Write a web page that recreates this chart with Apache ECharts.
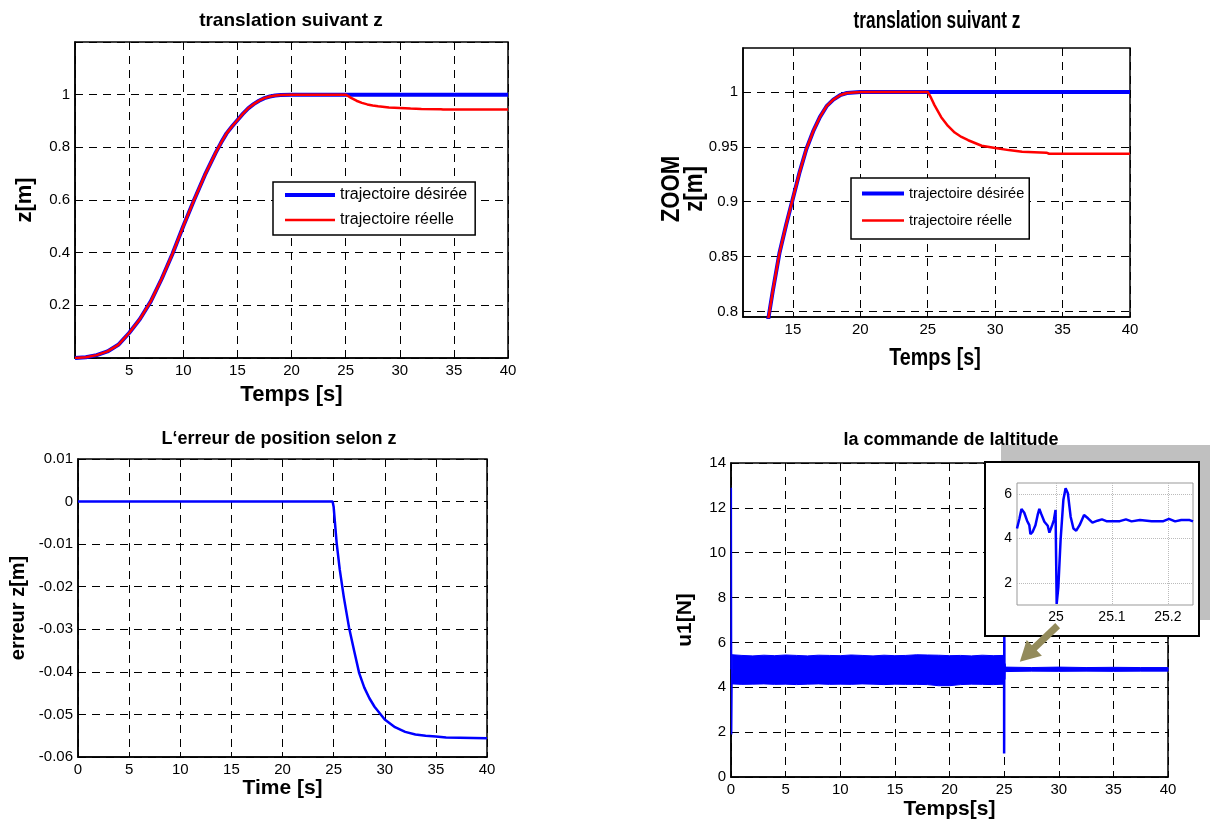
<!DOCTYPE html>
<html>
<head>
<meta charset="utf-8">
<script src="https://cdn.jsdelivr.net/npm/echarts@6/dist/echarts.min.js"></script>
<style>
  html, body { margin: 0; padding: 0; background: #fff; }
  #chart { width: 1210px; height: 823px; }
</style>
</head>
<body>
<div id="chart"></div>
<script>
// trajectoire z (haut gauche, et zoom haut droite)
const tZ = [0, 1, 2, 3, 4, 5, 6, 7, 8, 9, 10, 11, 12, 13, 13.5, 14, 14.5, 15, 15.5, 16, 16.5, 17, 17.5, 18, 18.5, 19, 20,
  25, 25.25, 25.5, 26, 26.5, 27, 27.5, 28, 29, 30, 31, 32, 33.8, 34, 36, 40];
const zDes = [0, 0.003, 0.011, 0.025, 0.05, 0.095, 0.148, 0.215, 0.3, 0.395, 0.5, 0.6, 0.695, 0.78, 0.818, 0.853, 0.879, 0.903, 0.927, 0.948, 0.964, 0.977, 0.987, 0.993, 0.997, 0.999, 1,
  1, 1, 1, 1, 1, 1, 1, 1, 1, 1, 1, 1, 1, 1, 1, 1];
const zReal = [0, 0.003, 0.011, 0.025, 0.05, 0.095, 0.148, 0.215, 0.3, 0.395, 0.5, 0.6, 0.695, 0.78, 0.818, 0.853, 0.879, 0.903, 0.927, 0.948, 0.964, 0.977, 0.987, 0.993, 0.997, 0.999, 1,
  1, 0.9945, 0.988, 0.977, 0.969, 0.963, 0.959, 0.956, 0.951, 0.949, 0.947, 0.9455, 0.9447, 0.9437, 0.9437, 0.9437];

// erreur de position (bas gauche)
const tErr = [0, 24.9, 25, 25.3, 25.6, 26, 26.5, 27, 27.5, 28, 28.5, 29, 30, 31, 32, 33, 34, 35, 36, 40];
const errZ = [0, 0, -0.0012, -0.0098, -0.016, -0.0225, -0.0295, -0.035, -0.0403, -0.0437, -0.0462, -0.0482, -0.0512, -0.053, -0.0541, -0.0547, -0.055, -0.0552, -0.0554, -0.0556];

// commande u1 (bas droite)
const tU0 = [0, 0.03, 0.06, 0.1];
const u0 = [4.8, 12.9, 1.9, 4.6];
// bande d'oscillation avant 25 s (enveloppes)
const tBandA = [0.1, 1, 2, 3, 4, 5, 6, 7, 8, 9, 10, 11, 12, 13, 14, 15, 16, 17, 18, 19, 20, 21, 22, 23, 24, 24.9];
const upA = [5.45, 5.42, 5.40, 5.43, 5.41, 5.44, 5.42, 5.40, 5.43, 5.42, 5.41, 5.44, 5.42, 5.40, 5.43, 5.41, 5.42, 5.45, 5.44, 5.43, 5.41, 5.42, 5.40, 5.43, 5.41, 5.42];
const loA = [4.15, 4.13, 4.14, 4.15, 4.13, 4.14, 4.12, 4.14, 4.15, 4.13, 4.14, 4.13, 4.15, 4.14, 4.12, 4.14, 4.13, 4.13, 4.12, 4.07, 4.07, 4.12, 4.14, 4.13, 4.12, 4.14];
// bande apres 25 s
const tBandB = [25.1, 27.5, 30, 32.5, 35, 37.5, 40];
const upB = [4.9, 4.88, 4.9, 4.88, 4.89, 4.88, 4.88];
const loB = [4.7, 4.72, 4.71, 4.72, 4.71, 4.72, 4.72];
// detail autour de 25 s (encart)
const tIn = [24.930, 24.9345, 24.938, 24.943, 24.948, 24.952, 24.954, 24.958, 24.963, 24.967, 24.970, 24.973, 24.979, 24.985, 24.988, 24.993, 24.996, 24.999,
  25.000, 25.001, 25.004, 25.008, 25.013, 25.017, 25.021, 25.026, 25.031, 25.036, 25.042, 25.050, 25.057, 25.065, 25.074, 25.082, 25.090,
  25.114, 25.125, 25.135, 25.150, 25.171, 25.192, 25.202, 25.213, 25.224, 25.239, 25.245];
const uIn = [4.45, 4.91, 5.33, 5.16, 4.80, 4.60, 4.20, 4.30, 4.60, 5.06, 5.33, 5.13, 4.75, 4.57, 4.26, 4.60, 4.83, 5.28,
  3.17, 1.05, 1.81, 3.92, 5.74, 6.26, 6.04, 4.98, 4.45, 4.35, 4.60, 5.06, 4.91, 4.71, 4.80, 4.86, 4.78,
  4.78, 4.86, 4.77, 4.83, 4.78, 4.78, 4.88, 4.77, 4.83, 4.83, 4.77];
const arrowFrom = [29.9, 6.75];
const arrowTo = [27.1, 5.45];

const FONT = "'Liberation Sans', Arial, sans-serif";
const pairs = (xs, ys) => xs.map((x, i) => [x, ys[i]]);

const dashGrid = { show: true, lineStyle: { color: '#000', type: [8, 6], width: 1 } };
const axLine = { show: true, onZero: false, lineStyle: { color: '#000', width: 1.5 } };
const axTick = { show: true, inside: true, length: 5, lineStyle: { color: '#000' } };
const lab = (extra) => Object.assign({ color: '#000', fontSize: 15, fontFamily: FONT, margin: 5 }, extra || {});
const nameStyle = (size) => ({ color: '#000', fontSize: size, fontWeight: 'bold', fontFamily: FONT });

// bande remplie entre deux enveloppes, passee par les axes du panneau 4
function band(ts, hi, lo) {
  return {
    type: 'custom', xAxisIndex: 3, yAxisIndex: 3, data: [0],
    renderItem: (params, api) => {
      const top = ts.map((t, i) => api.coord([t, hi[i]]));
      const bot = ts.map((t, i) => api.coord([t, lo[i]])).reverse();
      return { type: 'polygon', shape: { points: top.concat(bot) },
        style: { fill: '#0000ff', stroke: '#0000ff', lineWidth: 1 } };
    }
  };
}

// textes condenses du panneau zoom
function narrow(text, x, y, size, sx, rot) {
  return { type: 'text', x: x, y: y, rotation: rot || 0, scaleX: sx, z: 6,
    style: { text: text, fill: '#000', font: 'bold ' + size + 'px ' + FONT, align: 'center', verticalAlign: 'middle' } };
}

const legendData = [
  { name: 'trajectoire désirée', lineStyle: { width: 4 } },
  { name: 'trajectoire réelle', lineStyle: { width: 2.5 } }
];

const chart = echarts.init(document.getElementById('chart'));

const option = {
  animation: false,
  backgroundColor: '#fff',
  title: [
    { text: 'translation suivant z', left: 291, top: 11, textAlign: 'center', padding: 0,
      textStyle: { fontSize: 19, fontWeight: 'bold', fontFamily: FONT, color: '#000' } },
    { text: 'L‘erreur de position selon z', left: 279, top: 430, textAlign: 'center', padding: 0,
      textStyle: { fontSize: 18, fontWeight: 'bold', fontFamily: FONT, color: '#000' } },
    { text: 'la commande de laltitude', left: 951, top: 431, textAlign: 'center', padding: 0,
      textStyle: { fontSize: 18, fontWeight: 'bold', fontFamily: FONT, color: '#000' } }
  ],
  legend: [
    { data: legendData, orient: 'vertical', left: 273, top: 182,
      itemWidth: 50, itemHeight: 16, itemGap: 9, padding: [5, 8, 7, 10],
      itemStyle: { opacity: 0 },
      borderColor: '#000', borderWidth: 1.5, backgroundColor: '#fff',
      textStyle: { fontSize: 16, fontFamily: FONT, color: '#000' } },
    { data: legendData, orient: 'vertical', left: 851, top: 178,
      itemWidth: 42, itemHeight: 18, itemGap: 12, padding: [8, 5, 11, 9],
      itemStyle: { opacity: 0 },
      borderColor: '#000', borderWidth: 1.5, backgroundColor: '#fff',
      textStyle: { fontSize: 14.5, fontFamily: FONT, color: '#000' } }
  ],
  grid: [
    { left: 75, right: 702, top: 42, bottom: 465, show: true, borderColor: '#000', borderWidth: 1.5 },
    { left: 743, right: 80, top: 48, bottom: 506, show: true, borderColor: '#000', borderWidth: 1.5 },
    { left: 78, right: 723, top: 459, bottom: 66, show: true, borderColor: '#000', borderWidth: 1.5 },
    { left: 731, right: 42, top: 463, bottom: 46, show: true, borderColor: '#000', borderWidth: 1.5 },
    { left: 1017, right: 17, top: 483, bottom: 218, show: true, borderColor: '#999', borderWidth: 1, z: 4 }
  ],
  xAxis: [
    { type: 'value', gridIndex: 0, min: 0, max: 40, interval: 5,
      axisLine: axLine, axisTick: axTick, splitLine: dashGrid,
      axisLabel: lab({ formatter: v => (v === 0 ? '' : v) }),
      name: 'Temps [s]', nameLocation: 'middle', nameGap: 26, nameTextStyle: nameStyle(22) },
    { type: 'value', gridIndex: 1, min: 11.3, max: 40,
      axisLine: axLine, axisTick: Object.assign({ customValues: [15, 20, 25, 30, 35, 40] }, axTick), splitLine: dashGrid,
      axisLabel: lab({ customValues: [15, 20, 25, 30, 35, 40] }) },
    { type: 'value', gridIndex: 2, min: 0, max: 40, interval: 5,
      axisLine: axLine, axisTick: axTick, splitLine: dashGrid, axisLabel: lab(),
      name: 'Time [s]', nameLocation: 'middle', nameGap: 20, nameTextStyle: nameStyle(21) },
    { type: 'value', gridIndex: 3, min: 0, max: 40, interval: 5,
      axisLine: axLine, axisTick: axTick, splitLine: dashGrid, axisLabel: lab(),
      name: 'Temps[s]', nameLocation: 'middle', nameGap: 22, nameTextStyle: nameStyle(21) },
    { type: 'value', gridIndex: 4, min: 24.93, max: 25.245, z: 4,
      axisLine: { show: false }, axisTick: { show: false, customValues: [25, 25.1, 25.2] },
      splitLine: { show: true, lineStyle: { color: '#bbb', type: 'dotted', width: 1 } },
      axisLabel: lab({ fontSize: 14, customValues: [25, 25.1, 25.2] }) }
  ],
  yAxis: [
    { type: 'value', gridIndex: 0, min: 0, max: 1.2, interval: 0.2,
      axisLine: axLine, axisTick: axTick, splitLine: dashGrid,
      axisLabel: lab({ formatter: v => (v === 0 || v > 1.1 ? '' : v) }),
      name: 'z[m]', nameLocation: 'middle', nameGap: 39, nameTextStyle: nameStyle(22) },
    { type: 'value', gridIndex: 1, min: 0.795, max: 1.04,
      axisLine: axLine, axisTick: Object.assign({ customValues: [0.8, 0.85, 0.9, 0.95, 1] }, axTick), splitLine: dashGrid,
      axisLabel: lab({ customValues: [0.8, 0.85, 0.9, 0.95, 1] }) },
    { type: 'value', gridIndex: 2, min: -0.06, max: 0.01, interval: 0.01,
      axisLine: axLine, axisTick: axTick, splitLine: dashGrid, axisLabel: lab(),
      name: 'erreur z[m]', nameLocation: 'middle', nameGap: 50, nameTextStyle: nameStyle(20) },
    { type: 'value', gridIndex: 3, min: 0, max: 14, interval: 2,
      axisLine: axLine, axisTick: axTick, splitLine: dashGrid, axisLabel: lab(),
      name: 'u1[N]', nameLocation: 'middle', nameGap: 35, nameTextStyle: nameStyle(21) },
    { type: 'value', gridIndex: 4, min: 1, max: 6.5, z: 4,
      axisLine: { show: false }, axisTick: { show: false, customValues: [2, 4, 6] },
      splitLine: { show: true, lineStyle: { color: '#bbb', type: 'dotted', width: 1 } },
      axisLabel: lab({ fontSize: 14, customValues: [2, 4, 6] }) }
  ],
  graphic: [
    { type: 'rect', z: 3, shape: { x: 1001, y: 445, width: 209, height: 175 }, style: { fill: '#c0c0c0' } },
    { type: 'rect', z: 3.5, shape: { x: 985, y: 462, width: 214, height: 174 }, style: { fill: '#fff', stroke: '#000', lineWidth: 2 } },
    narrow('translation suivant z', 937, 22, 23, 0.75),
    narrow('Temps [s]', 935, 358, 24, 0.82),
    narrow('ZOOM', 672, 189, 25, 0.89, Math.PI / 2),
    narrow('z[m]', 695, 189, 25, 0.89, Math.PI / 2)
  ],
  series: [
    // panneau 1
    { name: 'trajectoire désirée', type: 'line', xAxisIndex: 0, yAxisIndex: 0, data: pairs(tZ, zDes),
      symbol: 'none', lineStyle: { color: '#0000ff', width: 4 }, itemStyle: { color: '#0000ff' } },
    { name: 'trajectoire réelle', type: 'line', xAxisIndex: 0, yAxisIndex: 0, data: pairs(tZ, zReal),
      symbol: 'none', lineStyle: { color: '#ff0000', width: 2.5 }, itemStyle: { color: '#ff0000' } },
    // panneau 2 (zoom)
    { name: 'trajectoire désirée', type: 'line', xAxisIndex: 1, yAxisIndex: 1, data: pairs(tZ, zDes),
      symbol: 'none', lineStyle: { color: '#0000ff', width: 4 }, itemStyle: { color: '#0000ff' } },
    { name: 'trajectoire réelle', type: 'line', xAxisIndex: 1, yAxisIndex: 1, data: pairs(tZ, zReal),
      symbol: 'none', lineStyle: { color: '#ff0000', width: 2.5 }, itemStyle: { color: '#ff0000' } },
    // panneau 3
    { type: 'line', xAxisIndex: 2, yAxisIndex: 2, data: pairs(tErr, errZ),
      symbol: 'none', lineStyle: { color: '#0000ff', width: 2.5 } },
    // panneau 4
    { type: 'line', xAxisIndex: 3, yAxisIndex: 3, data: pairs(tU0, u0),
      symbol: 'none', lineStyle: { color: '#0000ff', width: 1.5 } },
    band(tBandA, upA, loA),
    band(tBandB, upB, loB),
    { type: 'line', xAxisIndex: 3, yAxisIndex: 3, data: pairs(tIn, uIn),
      symbol: 'none', lineStyle: { color: '#0000ff', width: 2.5 },
      markLine: { silent: true, symbol: ['none', 'triangle'], symbolSize: [22, 20],
        lineStyle: { color: '#938b5b', width: 7, type: 'solid' }, label: { show: false },
        data: [[{ coord: arrowFrom }, { coord: arrowTo }]] } },
    // encart
    { type: 'line', xAxisIndex: 4, yAxisIndex: 4, z: 4.5, data: pairs(tIn, uIn),
      symbol: 'none', lineStyle: { color: '#0000ff', width: 2.5 } }
  ]
};
chart.setOption(option);
</script>
</body>
</html>
